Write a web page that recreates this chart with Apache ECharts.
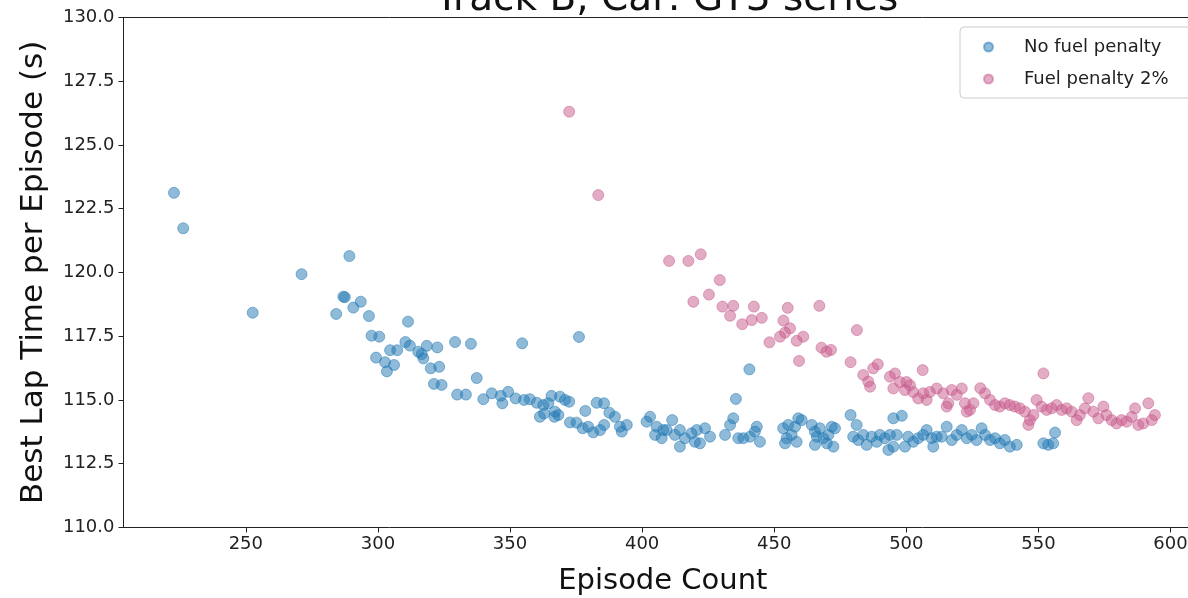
<!DOCTYPE html>
<html>
<head>
<meta charset="utf-8">
<script src="https://cdn.jsdelivr.net/npm/echarts@6/dist/echarts.min.js"></script>
<style>html,body{margin:0;padding:0;background:#fff;overflow:hidden;}#c{width:1188px;height:598px;}</style>
</head>
<body>
<div id="c"></div>
<script>
const xTicks = [250, 300, 350, 400, 450, 500, 550, 600];
const seriesNames = ['No fuel penalty', 'Fuel penalty 2%'];

const noFuelEpisodes = [
222.8,226.3,252.6,271.1,289.2,286.9,287.5,293.5,290.7,284.2,296.6,311.4,297.6,300.5,304.6,307.3,310.4,312.1,315.3,299.3,302.7,306.1,303.4,
316.6,318.5,322.5,329.2,335.2,354.6,376.1,317.2,320.0,323.2,321.2,324.1,337.4,330.0,333.3,339.9,343.1,346.5,347.1,349.3,352.1,355.3,357.5,360.1,362.6,364.5,361.3,362.9,365.7,368.9,370.8,372.4,367.0,368.3,366.8,378.5,372.7,375.2,377.5,379.6,381.5,384.1,385.6,382.8,385.6,387.6,389.7,391.6,392.3,394.2,403.0,401.7,405.5,408.0,404.9,407.4,
440.6,435.5,411.4,409.3,412.4,414.3,416.2,418.7,420.0,421.9,423.8,425.7,420.7,414.3,431.4,433.3,434.5,436.4,438.3,440.8,443.4,444.6,442.7,453.4,455.3,454.7,456.6,457.9,459.1,460.4,458.5,454.1,464.2,465.4,467.3,466.1,468.6,469.9,471.8,473.0,470.5,465.4,472.4,478.9,481.2,479.9,481.8,483.7,485.0,486.9,488.8,490.0,491.9,493.2,495.1,493.8,496.4,495.1,498.3,499.5,500.7,502.6,504.5,506.4,507.7,509.6,511.5,510.2,
513.4,515.3,517.2,519.1,521.0,522.9,524.8,526.6,528.5,529.8,531.7,533.6,535.4,537.3,539.2,541.8,551.9,553.7,555.6,556.3
];
const noFuelLapTimes = [
123.12,121.73,118.42,119.93,120.64,119.05,119.03,118.85,118.62,118.37,118.29,118.07,117.52,117.48,116.95,116.95,117.27,117.13,116.89,116.66,116.48,116.37,116.12,
116.80,117.12,117.06,117.27,117.20,117.22,117.47,116.63,116.24,116.30,115.63,115.59,115.86,115.21,115.21,115.03,115.26,115.16,114.87,115.32,115.06,115.00,115.03,114.89,114.80,114.87,114.34,114.47,115.16,115.13,115.00,114.93,114.54,114.41,114.34,114.57,114.12,114.11,113.89,113.95,113.73,113.82,114.02,114.89,114.87,114.50,114.34,113.95,113.76,114.02,114.34,114.15,113.95,113.82,113.63,113.50,
116.20,115.04,114.21,113.82,113.63,113.82,113.50,113.69,113.36,113.30,113.89,113.56,113.82,113.17,113.63,114.02,114.28,113.50,113.50,113.56,113.95,113.36,113.76,113.89,114.02,113.50,113.63,113.95,114.28,114.21,113.36,113.30,114.02,113.76,113.89,113.56,113.50,113.30,113.95,113.89,113.63,113.24,113.17,114.41,114.02,113.56,113.43,113.63,113.24,113.56,113.36,113.63,113.50,113.04,113.17,113.63,113.63,114.28,114.38,113.17,113.56,113.36,113.50,113.63,113.82,113.50,113.56,113.17,
113.56,113.95,113.43,113.63,113.82,113.50,113.63,113.43,113.89,113.63,113.43,113.50,113.30,113.43,113.17,113.24,113.30,113.24,113.30,113.72
];

const fuelEpisodes = [
372.4,383.4,410.2,417.5,422.2,429.4,425.3,419.4,430.4,434.5,433.3,442.3,437.9,441.5,445.3,455.1,467.1,453.5,456.0,454.1,452.2,448.2,458.5,461.0,481.3,459.4,467.9,469.8,471.5,478.9,487.5,489.2,506.2,
483.7,485.6,486.3,493.8,495.7,495.1,497.6,500.1,499.5,501.4,502.6,504.5,506.4,507.7,508.9,511.5,551.9,
514.0,515.9,517.2,519.1,521.0,522.2,515.3,524.1,525.4,522.9,528.0,529.8,531.7,533.6,535.4,537.3,539.2,541.1,543.0,544.9,546.8,546.2,548.1,549.3,551.2,553.1,555.0,556.9,558.8,560.7,562.6,564.5,565.7,567.6,568.9,570.8,572.7,574.6,575.8,577.7,579.6,581.5,583.4,585.3,586.6,587.8,589.7,591.6,592.9,594.1
];
const fuelLapTimes = [
126.30,123.03,120.45,120.45,120.71,119.70,119.13,118.85,118.66,118.69,118.30,118.66,117.97,118.13,118.22,118.61,118.69,118.11,117.81,117.64,117.48,117.26,117.32,117.48,117.74,116.53,117.05,116.89,116.96,116.48,116.24,116.40,116.17,
115.98,115.72,115.52,115.91,116.04,115.45,115.70,115.70,115.39,115.58,115.31,115.06,115.26,115.00,115.31,115.45,116.04,
115.26,114.87,115.39,115.20,115.45,114.87,114.74,114.61,114.87,114.54,115.46,115.26,115.00,114.80,114.74,114.87,114.80,114.74,114.67,114.54,114.21,114.02,114.41,115.00,114.74,114.61,114.67,114.80,114.61,114.67,114.54,114.21,114.41,114.67,115.07,114.54,114.28,114.74,114.41,114.21,114.08,114.21,114.15,114.34,114.67,114.02,114.08,114.87,114.21,114.41
];

function pairs(xs, ys) { return xs.map((x, i) => [x, ys[i]]); }

const FONT = 'DejaVu Sans';
const chart = echarts.init(document.getElementById('c'), null, { renderer: 'canvas' });
chart.setOption({
  animation: false,
  backgroundColor: '#ffffff',
  title: {
    text: 'Track B, Car: GT3 series',
    left: 430, top: -25,
    textStyle: { fontFamily: FONT, fontSize: 39, fontWeight: 'normal', color: '#111' }
  },
  legend: {
    orient: 'vertical',
    left: 960, top: 27,
    padding: [11, 40, 10, 23],
    itemGap: 14,
    itemWidth: 9, itemHeight: 9,
    icon: 'circle',
    backgroundColor: '#ffffff',
    borderColor: '#cccccc', borderWidth: 1, borderRadius: 4,
    textStyle: { fontFamily: FONT, fontSize: 18, color: '#222', padding: [0, 0, 0, 26] },
    data: seriesNames
  },
  grid: {
    left: 123.5, top: 17.3, height: 510.2, width: 1078.7,
    outerBoundsMode: 'none', containLabel: false, show: false
  },
  xAxis: [
    {
      type: 'value', min: 203.7, max: 612, position: 'bottom',
      name: 'Episode Count', nameLocation: 'middle', nameGap: 39,
      nameTextStyle: { fontFamily: FONT, fontSize: 29, color: '#111' },
      axisLine: { show: true, onZero: false, lineStyle: { color: '#222', width: 1 } },
      axisTick: { show: true, length: 5, lineStyle: { color: '#222' }, customValues: xTicks },
      axisLabel: { fontFamily: FONT, fontSize: 18, color: '#222', margin: 8, customValues: xTicks },
      splitLine: { show: false }
    },
    {
      type: 'value', min: 203.7, max: 612, position: 'top',
      axisLine: { show: true, onZero: false, lineStyle: { color: '#222', width: 1 } },
      axisTick: { show: false }, axisLabel: { show: false }, splitLine: { show: false }
    }
  ],
  yAxis: {
    type: 'value', min: 110, max: 130, interval: 2.5,
    name: 'Best Lap Time per Episode (s)', nameLocation: 'middle', nameGap: 74,
    nameTextStyle: { fontFamily: FONT, fontSize: 31, color: '#111' },
    axisLine: { show: true, lineStyle: { color: '#222', width: 1 } },
    axisTick: { show: true, length: 5, lineStyle: { color: '#222' } },
    axisLabel: { fontFamily: FONT, fontSize: 18, color: '#222', margin: 9, formatter: v => v.toFixed(1) },
    splitLine: { show: false }
  },
  series: [
    {
      name: seriesNames[0], type: 'scatter', symbolSize: 11, xAxisIndex: 0,
      itemStyle: { color: '#1f77b4', opacity: 0.5, borderColor: '#1f77b4', borderWidth: 1 },
      data: pairs(noFuelEpisodes, noFuelLapTimes)
    },
    {
      name: seriesNames[1], type: 'scatter', symbolSize: 11, xAxisIndex: 0,
      itemStyle: { color: '#c85a8c', opacity: 0.5, borderColor: '#c85a8c', borderWidth: 1 },
      data: pairs(fuelEpisodes, fuelLapTimes)
    }
  ]
});
</script>
</body>
</html>
